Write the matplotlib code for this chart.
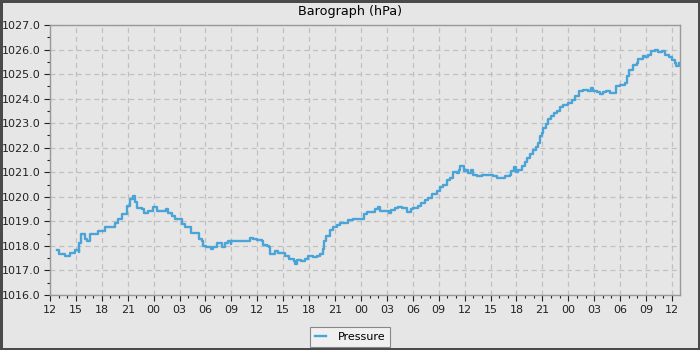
import matplotlib
matplotlib.use("Agg")
import matplotlib.pyplot as plt
from matplotlib.ticker import MultipleLocator, FixedLocator

# hours since 12:00 on day one
hours = [0.77, 1.08, 1.74, 2.3, 2.9, 3.3, 3.4, 3.55, 3.86, 4.05, 4.24, 4.63, 5.2, 5.6, 6.0,
         6.37, 7.14, 7.5, 7.9, 8.3, 8.8, 8.95, 9.26, 9.65, 9.84, 10.1, 10.6, 10.9, 11.4,
         11.9, 12.35, 13.4, 13.7, 14.1, 14.5, 14.85, 15.24, 15.6, 16.0, 16.28, 16.8, 17.3,
         17.55, 17.75, 18.1, 18.6, 18.9, 19.3, 19.9, 20.3, 20.6, 20.9, 21.0, 21.6, 22.2,
         22.8, 23.15, 23.5, 24.0, 24.5, 24.6, 25.1, 25.3, 25.5, 26.05, 26.4, 26.8, 27.2,
         27.7, 28.2, 28.36, 28.55, 29.1, 29.5, 29.9, 30.5, 30.9, 31.25, 31.56, 31.7, 32.0,
         32.4, 32.8, 33.2, 33.6, 34.15, 34.5, 35.1, 35.9, 36.3, 36.65, 37.2, 37.6, 38.0,
         38.2, 38.8, 39.2, 39.5, 39.9, 40.3, 40.7, 41.3, 41.75, 42.05, 42.6, 43.0, 43.4,
         43.8, 44.2, 44.75, 45.1, 45.5, 45.9, 46.3, 46.7, 47.1, 47.3, 47.5, 47.85, 47.9,
         48.2, 48.4, 48.7, 49.0, 49.4, 49.96, 50.9, 51.3, 51.8, 52.55, 52.7, 53.2, 53.4,
         53.7, 54.0, 54.2, 54.6, 55.0, 55.25, 55.6, 55.95, 56.3, 56.5, 56.7, 56.9, 57.1,
         57.4, 57.7, 57.95, 58.3, 58.65, 59.0, 59.4, 60.0, 60.4, 60.8, 61.2, 61.7, 62.3,
         62.6, 62.9, 63.3, 63.7, 64.05, 64.4, 64.8, 65.2, 65.5, 65.97, 66.55, 66.75, 67.05,
         67.5, 67.9, 68.1, 68.6, 68.9, 69.25, 69.6, 70.0, 70.4, 70.8, 71.2, 71.6, 71.96,
         72.3, 72.5, 72.85]
pressure = [1017.82, 1017.66, 1017.57, 1017.73, 1017.82, 1017.77, 1018.13, 1018.48, 1018.48,
            1018.27, 1018.2, 1018.48, 1018.48, 1018.6, 1018.6, 1018.75, 1018.79, 1018.95,
            1019.09, 1019.29, 1019.29, 1019.63, 1019.9, 1020.04, 1019.77, 1019.56, 1019.5,
            1019.36, 1019.43, 1019.6, 1019.43, 1019.5, 1019.36, 1019.22, 1019.09, 1019.09,
            1018.88, 1018.79, 1018.79, 1018.54, 1018.52, 1018.27, 1018.2, 1018.0, 1017.96,
            1017.86, 1017.96, 1018.11, 1017.97, 1018.13, 1018.2, 1018.07, 1018.2, 1018.2,
            1018.2, 1018.2, 1018.31, 1018.27, 1018.24, 1018.2, 1018.02, 1018.0, 1017.97,
            1017.66, 1017.8, 1017.73, 1017.73, 1017.59, 1017.48, 1017.39, 1017.26, 1017.42,
            1017.39, 1017.48, 1017.57, 1017.53, 1017.57, 1017.66, 1017.86, 1018.2, 1018.41,
            1018.65, 1018.79, 1018.84, 1018.92, 1018.95, 1019.06, 1019.09, 1019.11, 1019.29,
            1019.4, 1019.4, 1019.5, 1019.6, 1019.43, 1019.43, 1019.36, 1019.47, 1019.54,
            1019.6, 1019.54, 1019.4, 1019.52, 1019.55, 1019.61, 1019.75, 1019.89, 1019.95,
            1020.13, 1020.23, 1020.4, 1020.5, 1020.7, 1020.77, 1021.0, 1020.95, 1021.1,
            1021.24, 1021.24, 1021.04, 1021.1, 1020.97, 1021.1, 1020.9, 1020.84, 1020.9,
            1020.9, 1020.84, 1020.77, 1020.77, 1020.86, 1020.9, 1021.04, 1021.22, 1021.0,
            1021.1, 1021.27, 1021.4, 1021.58, 1021.76, 1021.92, 1022.03, 1022.2, 1022.47,
            1022.6, 1022.8, 1022.97, 1023.15, 1023.28, 1023.42, 1023.51, 1023.65, 1023.76,
            1023.83, 1023.96, 1024.1, 1024.33, 1024.37, 1024.33, 1024.44, 1024.3, 1024.27,
            1024.17, 1024.27, 1024.33, 1024.23, 1024.23, 1024.53, 1024.57, 1024.64, 1024.91,
            1025.18, 1025.36, 1025.46, 1025.63, 1025.73, 1025.69, 1025.77, 1025.93, 1026.0,
            1025.9, 1025.93, 1025.77, 1025.69, 1025.59, 1025.46, 1025.32, 1025.46]

tick_hours = list(range(0, 73, 3))
tick_labels = ["12", "15", "18", "21", "00", "03", "06", "09"] * 3 + ["12"]

bg = "#e6e6e6"
fig = plt.figure(figsize=(7, 3.5), dpi=100, facecolor=bg, edgecolor="#4a4a4a", linewidth=3.5)
ax = fig.add_axes([50 / 700, 1 - 295 / 350, 630 / 700, 270 / 350])
ax.set_facecolor(bg)

ax.plot(hours, pressure, color="#4ba4d8", linewidth=1.7, drawstyle="steps-post", label="Pressure")

ax.set_xlim(0, 72.93)
ax.set_ylim(1016, 1027)
ax.xaxis.set_major_locator(FixedLocator(tick_hours))
ax.set_xticklabels(tick_labels)
ax.xaxis.set_minor_locator(MultipleLocator(1))
ax.yaxis.set_major_locator(MultipleLocator(1))
ax.yaxis.set_minor_locator(MultipleLocator(0.5))
ax.yaxis.set_major_formatter(matplotlib.ticker.FormatStrFormatter("%.1f"))

ax.tick_params(which="major", length=4, width=0.8, labelsize=8, pad=3, colors="#222222")
ax.tick_params(which="minor", length=2.5, width=0.8, colors="#222222")
ax.grid(True, which="major", linestyle=(0, (4, 3)), color="#c0c0c0", linewidth=0.9)
for s in ax.spines.values():
    s.set_color("#999999")
    s.set_linewidth(1.0)

fig.text(0.5, 1 - 12 / 350, "Barograph (hPa)", ha="center", va="center", fontsize=9.2)

leg = fig.legend(loc="center", bbox_to_anchor=(0.5, 1 - 337 / 350), fontsize=8,
                 handlelength=1.0, fancybox=False, framealpha=1, borderpad=0.45,
                 handletextpad=1.1, borderaxespad=0)
leg.get_frame().set_facecolor("#f0f0f0")
leg.get_frame().set_edgecolor("#888888")
leg.get_frame().set_linewidth(0.8)

fig.savefig("out.png", dpi=100)
